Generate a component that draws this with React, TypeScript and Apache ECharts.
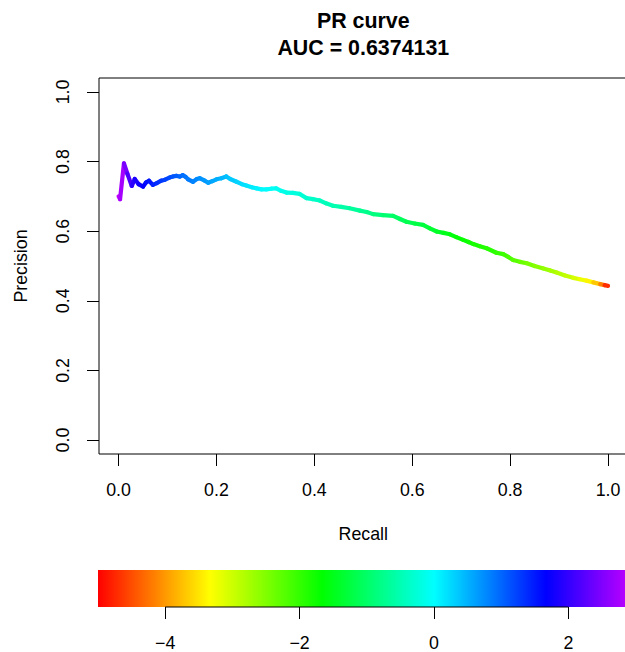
import React, { useEffect, useRef } from "react";
import * as echarts from "echarts";

// ---- data ----
const RECALL = [
  0.0, 0.003, 0.011, 0.018, 0.027, 0.033, 0.041, 0.05, 0.056, 0.062, 0.07, 0.078, 0.087, 0.095,
  0.104, 0.111, 0.118, 0.125, 0.131, 0.137, 0.142, 0.152, 0.16, 0.166, 0.175, 0.183, 0.192, 0.2,
  0.21, 0.22, 0.228, 0.241, 0.252, 0.261, 0.272, 0.282, 0.292, 0.302, 0.312, 0.322, 0.332, 0.343,
  0.356, 0.37, 0.384, 0.397, 0.411, 0.424, 0.438, 0.455, 0.472, 0.493, 0.507, 0.52, 0.54, 0.561,
  0.575, 0.588, 0.605, 0.622, 0.636, 0.65, 0.664, 0.677, 0.69, 0.704, 0.715, 0.725, 0.738, 0.752,
  0.772, 0.786, 0.796, 0.806, 0.82, 0.834, 0.85, 0.868, 0.882, 0.895, 0.912, 0.929, 0.942, 0.956,
  0.97, 0.984, 0.993, 1.0,
];
const PRECISION = [
  0.7, 0.692, 0.795, 0.765, 0.73, 0.75, 0.735, 0.728, 0.74, 0.745, 0.733, 0.738, 0.745, 0.748,
  0.754, 0.757, 0.759, 0.757, 0.761, 0.756, 0.749, 0.742, 0.75, 0.752, 0.746, 0.739, 0.744, 0.749,
  0.752, 0.757, 0.75, 0.742, 0.735, 0.731, 0.726, 0.723, 0.72, 0.72, 0.722, 0.723, 0.716, 0.711,
  0.71, 0.707, 0.695, 0.692, 0.688, 0.68, 0.673, 0.67, 0.666, 0.659, 0.655, 0.649, 0.646, 0.644,
  0.635, 0.627, 0.622, 0.618, 0.608, 0.599, 0.595, 0.591, 0.583, 0.575, 0.569, 0.563, 0.557, 0.551,
  0.538, 0.534, 0.526, 0.517, 0.512, 0.508, 0.5, 0.493, 0.487, 0.481, 0.473, 0.466, 0.462, 0.458,
  0.453, 0.448, 0.445, 0.443,
];
const SCORE = [
  3.0, 2.9, 2.6, 2.3, 2.0, 1.9, 1.8, 1.7, 1.62, 1.55, 1.48, 1.4, 1.33, 1.26,
  1.2, 1.14, 1.08, 1.02, 0.97, 0.92, 0.88, 0.83, 0.78, 0.74, 0.69, 0.64, 0.59, 0.55,
  0.5, 0.45, 0.38, 0.31, 0.25, 0.2, 0.15, 0.1, 0.05, 0.0, -0.04, -0.08, -0.12, -0.16,
  -0.2, -0.25, -0.3, -0.35, -0.4, -0.45, -0.5, -0.55, -0.6, -0.7, -0.75, -0.8, -0.9, -1.0,
  -1.05, -1.1, -1.2, -1.25, -1.3, -1.4, -1.45, -1.55, -1.62, -1.7, -1.75, -1.8, -1.85, -1.9,
  -1.95, -2.05, -2.1, -2.2, -2.3, -2.4, -2.5, -2.6, -2.7, -2.8, -2.9, -3.0, -3.15, -3.3,
  -3.5, -3.9, -4.4, -5.0,
];

const TITLE = "PR curve";
const SUBTITLE = "AUC = 0.6374131";
const X_TICKS = [0, 0.2, 0.4, 0.6, 0.8, 1.0];
const Y_TICKS = [0, 0.2, 0.4, 0.6, 0.8, 1.0];
const CB_TICKS = [-4, -2, 0, 2];
const CB_MIN = -5;
const CB_MAX = 3;
const CB_AXIS_LINE = [
  [-4, 0],
  [2, 0],
];

const FONT = '"Liberation Sans", Arial, Helvetica, sans-serif';

function hueColor(h: number): string {
  const hh = Math.max(0, Math.min(0.8333, h)) * 6;
  const i = Math.floor(hh);
  const f = hh - i;
  const q = 1 - f;
  let r = 0, g = 0, b = 0;
  switch (i % 6) {
    case 0: r = 1; g = f; b = 0; break;
    case 1: r = q; g = 1; b = 0; break;
    case 2: r = 0; g = 1; b = f; break;
    case 3: r = 0; g = q; b = 1; break;
    case 4: r = f; g = 0; b = 1; break;
    default: r = 1; g = 0; b = q; break;
  }
  const to = (v: number) => Math.round(v * 255).toString(16).padStart(2, "0");
  return "#" + to(r) + to(g) + to(b);
}
const scoreColor = (s: number) => hueColor((s - CB_MIN) / 10);

const fmtMinus = (v: number) => (v < 0 ? "\u2212" + Math.abs(v) : String(v));

export default function App() {
  const ref = useRef<HTMLDivElement>(null);
  useEffect(() => {
    if (!ref.current) return;
    document.body.style.overflow = "hidden";
    const chart = echarts.init(ref.current, null, { renderer: "svg" });
    const labelStyle = { fontSize: 17.8, color: "#000", fontFamily: FONT };
    const tick = (vals: number[]) => ({
      show: true, inside: false, customValues: vals, length: 12,
      lineStyle: { color: "#000", width: 1 },
    });
    const option: any = {
      animation: false,
      textStyle: { fontFamily: FONT },
      grid: [
        {
          left: 99, top: 78, width: 528.6, height: 376,
          show: true, borderColor: "#000", borderWidth: 1, backgroundColor: "transparent",
        },
        { left: 98, top: 570, width: (CB_MAX - CB_MIN) * 67.2, height: 40, show: false },
      ],
      xAxis: [
        {
          gridIndex: 0, type: "value", min: -0.04, max: 1.04,
          axisLine: { show: false, onZero: false }, splitLine: { show: false },
          axisTick: tick(X_TICKS),
          axisLabel: { customValues: X_TICKS, formatter: (v: number) => v.toFixed(1), margin: 27, ...labelStyle },
          name: "Recall", nameLocation: "middle", nameGap: 71, nameTextStyle: labelStyle,
        },
        {
          gridIndex: 1, type: "value", min: CB_MIN, max: CB_MAX,
          axisLine: { show: false, onZero: false }, splitLine: { show: false },
          axisTick: tick(CB_TICKS),
          axisLabel: { customValues: CB_TICKS, formatter: fmtMinus, margin: 27, ...labelStyle },
        },
      ],
      yAxis: [
        {
          gridIndex: 0, type: "value", min: -0.04, max: 1.04,
          axisLine: { show: false, onZero: false }, splitLine: { show: false },
          axisTick: tick(Y_TICKS),
          axisLabel: { customValues: Y_TICKS, rotate: 90, formatter: (v: number) => v.toFixed(1), margin: 27, ...labelStyle },
          name: "Precision", nameLocation: "middle", nameGap: 69, nameTextStyle: labelStyle,
        },
        { gridIndex: 1, type: "value", min: 0, max: 1, show: false },
      ],
      graphic: [
        {
          type: "text", x: 363.3, y: 20.5,
          style: { text: TITLE, font: `bold 21.4px ${FONT}`, textAlign: "center", textVerticalAlign: "middle", fill: "#000" },
        },
        {
          type: "text", x: 363.3, y: 47.5,
          style: { text: SUBTITLE, font: `bold 21.4px ${FONT}`, textAlign: "center", textVerticalAlign: "middle", fill: "#000" },
        },
      ],
      series: [
        {
          type: "custom",
          xAxisIndex: 0, yAxisIndex: 0,
          data: RECALL.map((r, i) => [r, PRECISION[i], SCORE[i]]),
          renderItem: (params: any, api: any) => {
            const i = params.dataIndex;
            if (i >= RECALL.length - 1) return { type: "group", children: [] };
            const p0 = api.coord([RECALL[i], PRECISION[i]]);
            const p1 = api.coord([RECALL[i + 1], PRECISION[i + 1]]);
            return {
              type: "line",
              shape: { x1: p0[0], y1: p0[1], x2: p1[0], y2: p1[1] },
              style: { stroke: scoreColor((SCORE[i] + SCORE[i + 1]) / 2), lineWidth: 4.2, lineCap: "round" },
            };
          },
        },
        {
          type: "custom",
          xAxisIndex: 1, yAxisIndex: 1,
          data: [[CB_MIN, CB_MAX]],
          renderItem: (params: any, api: any) => {
            const a = api.coord([CB_MIN, 1]);
            const b = api.coord([CB_MAX, 0]);
            const n = 48;
            const stops = [];
            for (let k = 0; k <= n; k++) {
              const v = CB_MIN + ((CB_MAX - CB_MIN) * k) / n;
              stops.push({ offset: k / n, color: scoreColor(v) });
            }
            return {
              type: "rect",
              shape: { x: a[0], y: a[1], width: b[0] - a[0], height: b[1] - a[1] },
              style: { fill: new echarts.graphic.LinearGradient(0, 0, 1, 0, stops) },
            };
          },
        },
        {
          type: "line",
          xAxisIndex: 1, yAxisIndex: 1,
          data: CB_AXIS_LINE,
          symbol: "none", clip: false, silent: true,
          lineStyle: { color: "#000", width: 1 },
        },
      ],
    };
    chart.setOption(option);
    return () => chart.dispose();
  }, []);
  return (
    <div
      ref={ref}
      style={{ position: "absolute", left: 0, top: 0, width: 645, height: 652, background: "#fff" }}
    />
  );
}
